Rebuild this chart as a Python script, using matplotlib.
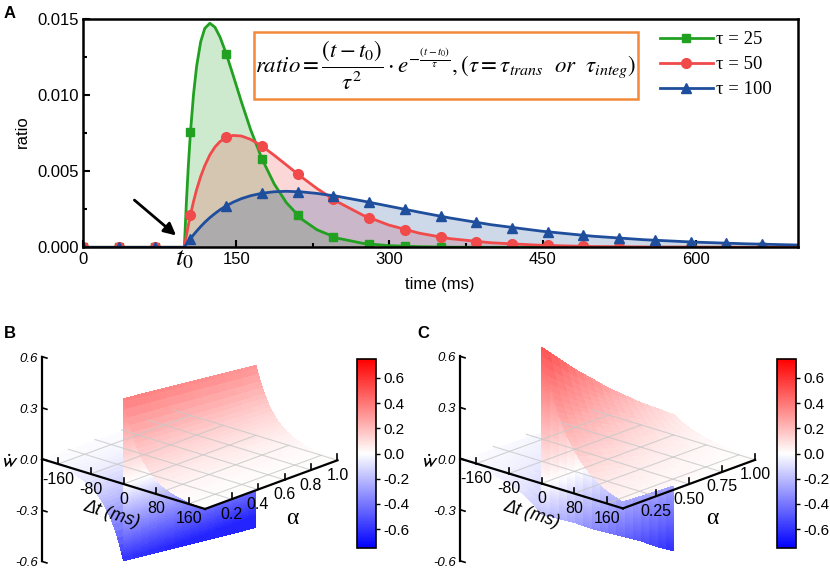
import numpy as np
import matplotlib
matplotlib.use('Agg')
import matplotlib.pyplot as plt
from matplotlib.lines import Line2D
from matplotlib.patches import Rectangle
from matplotlib.colors import Normalize, TwoSlopeNorm
from matplotlib.cm import ScalarMappable

plt.rcParams['font.family'] = ['Liberation Sans', 'DejaVu Sans']
plt.rcParams['mathtext.fontset'] = 'stix'
plt.rcParams['axes.unicode_minus'] = False

W, H = 830, 573

# ---------------- panel A data ----------------
t_curve = [0, 99, 101, 103, 105, 108, 111, 115, 119, 124, 129, 134, 140, 147, 155,
           164, 175, 187, 199, 214, 229, 249, 274, 299, 329, 359, 399, 449, 499,
           549, 599, 649, 700]
ratio_25 = [0, 0, 0.00295, 0.00545, 0.00755, 0.01005, 0.01188, 0.01350, 0.01438,
            0.01472, 0.01446, 0.01381, 0.01273, 0.01126, 0.00954, 0.00772, 0.00582,
            0.00417, 0.00293, 0.00185, 0.00115, 0.00060, 0.00026, 0.00011, 0.00004,
            0.00001, 0, 0, 0, 0, 0, 0, 0]
ratio_50 = [0, 0, 0.00077, 0.00148, 0.00213, 0.00301, 0.00378, 0.00465, 0.00536,
            0.00607, 0.00659, 0.00695, 0.00722, 0.00735, 0.00731, 0.00709, 0.00665,
            0.00605, 0.00541, 0.00461, 0.00386, 0.00299, 0.00211, 0.00147, 0.00093,
            0.00057, 0.00030, 0.00013, 0.00005, 0.00002, 0.00001, 0, 0]
ratio_100 = [0, 0, 0.00020, 0.00038, 0.00057, 0.00082, 0.00106, 0.00136, 0.00164,
             0.00195, 0.00222, 0.00247, 0.00272, 0.00297, 0.00320, 0.00339, 0.00355,
             0.00365, 0.00368, 0.00364, 0.00354, 0.00335, 0.00304, 0.00271, 0.00231,
             0.00193, 0.00149, 0.00106, 0.00073, 0.00050, 0.00034, 0.00023, 0.00015]

t_mark = [0, 35, 70, 105, 140, 175, 210, 245, 280, 315, 350, 385, 420, 455, 490,
          525, 560, 595, 630, 665]
mark_25 = [0, 0, 0, 0.00755, 0.01273, 0.00582, 0.00209, 0.00068, 0.00021, 0.00006,
           0.00002, 0, 0, 0, 0, 0, 0, 0, 0, 0]
mark_50 = [0, 0, 0, 0.00213, 0.00722, 0.00665, 0.00482, 0.00315, 0.00194, 0.00115,
           0.00066, 0.00038, 0.00021, 0.00012, 0.00006, 0.00003, 0.00002, 0.00001, 0, 0]
mark_100 = [0, 0, 0, 0.00057, 0.00272, 0.00355, 0.00366, 0.00339, 0.00296, 0.00249,
            0.00204, 0.00164, 0.00130, 0.00101, 0.00078, 0.00060, 0.00046, 0.00035,
            0.00026, 0.00020]
tau_labels = ['τ = 25', 'τ = 50', 'τ = 100']

# ---------------- panels B / C data ----------------
alpha_rows = [0, 0.0625, 0.125, 0.1875, 0.25, 0.3125, 0.375, 0.4375, 0.5, 0.5625,
              0.625, 0.6875, 0.75, 0.8125, 0.875, 0.9375, 1.0]
dt_steps = [0, 5, 10, 15, 20, 25, 30, 35, 40, 45, 50, 55, 60, 65, 70, 75, 80,
            90, 100, 110, 120, 130, 140, 150, 160, 170, 180, 190, 200]
decay_B = [1.0, 0.895, 0.80, 0.717, 0.64, 0.574, 0.513, 0.459, 0.411, 0.368, 0.329,
           0.295, 0.264, 0.236, 0.211, 0.189, 0.169, 0.135, 0.108, 0.087, 0.069,
           0.056, 0.045, 0.036, 0.029, 0.023, 0.018, 0.015, 0.012]
decay_C = [1.0, 0.931, 0.867, 0.807, 0.751, 0.70, 0.651, 0.607, 0.565, 0.526, 0.49,
           0.456, 0.424, 0.395, 0.368, 0.343, 0.319, 0.277, 0.24, 0.208, 0.18,
           0.156, 0.135, 0.117, 0.102, 0.088, 0.076, 0.066, 0.057]
ltp_B = [0.500, 0.494, 0.489, 0.483, 0.478, 0.472, 0.466, 0.461, 0.455, 0.449, 0.444,
         0.438, 0.433, 0.427, 0.421, 0.416, 0.410]
ltd_B = [0.450, 0.456, 0.461, 0.467, 0.473, 0.478, 0.484, 0.489, 0.495, 0.501, 0.506,
         0.512, 0.518, 0.523, 0.529, 0.534, 0.540]
ltp_C = [0.80, 0.75, 0.70, 0.65, 0.60, 0.555, 0.51, 0.465, 0.42, 0.38, 0.34, 0.30,
         0.26, 0.225, 0.19, 0.155, 0.12]
ltd_C = [0.18, 0.21, 0.24, 0.27, 0.30, 0.335, 0.37, 0.40, 0.43, 0.46, 0.49, 0.52,
         0.55, 0.585, 0.62, 0.65, 0.68]
dt_ticks = [-160, -80, 0, 80, 160]
z_ticks = [0.6, 0.3, 0.0, -0.3, -0.6]
alpha_ticks_B = [0.2, 0.4, 0.6, 0.8, 1.0]
alpha_ticks_C = [0.25, 0.50, 0.75, 1.00]
cbar_ticks = [0.6, 0.4, 0.2, 0.0, -0.2, -0.4, -0.6]

fig = plt.figure(figsize=(W / 100, H / 100), dpi=100)

# ================= panel A =================
axA = fig.add_axes([83.3 / W, 1 - 247.3 / H, 714.4 / W, 228.3 / H])
cols = ['#22a022', '#f04a4a', '#1f4e9c']
marks = ['s', 'o', '^']
msz = [6, 7, 7.5]
curves = [ratio_25, ratio_50, ratio_100]
points = [mark_25, mark_50, mark_100]
for c, y in zip(cols, curves):
    axA.fill_between(t_curve, y, 0, color=c, alpha=0.22, lw=0)
for c, y, ym, m, s in zip(cols, curves, points, marks, msz):
    axA.plot(t_curve, y, color=c, lw=2)
    axA.plot(t_mark, ym, ls='none', marker=m, ms=s, color=c)
axA.set_xlim(0, 700)
axA.set_ylim(0, 0.015)
axA.set_xticks([0, 100, 150, 300, 450, 600])
axA.set_xticklabels(['0', '', '150', '300', '450', '600'])
axA.set_xticks([225, 375, 525], minor=True)
axA.set_yticks([0, 0.005, 0.010, 0.015])
axA.set_yticklabels(['0.000', '0.005', '0.010', '0.015'])
axA.set_yticks([0.0025, 0.0075, 0.0125], minor=True)
axA.tick_params(which='both', direction='in', labelsize=12, width=1.5)
axA.tick_params(which='major', length=5)
axA.tick_params(which='minor', length=3)
for sp in axA.spines.values():
    sp.set_linewidth(1.8)
fig.text(185 / W, 1 - 258 / H, r'$t_0$', fontsize=20, ha='center', va='center')

axA.annotate('', xy=(93, 0.00066), xytext=(48, 0.00322),
             arrowprops=dict(arrowstyle='-|>', color='black', lw=2, mutation_scale=18))

handles = [Line2D([], [], color=c, lw=2, marker=m, ms=s) for c, m, s in zip(cols, marks, msz)]
fig.legend(handles, tau_labels, loc='upper left', bbox_to_anchor=(660 / W, 1 - 31 / H),
           frameon=False, borderpad=0, borderaxespad=0, handlelength=2.8,
           handletextpad=0.2, labelspacing=0.42, numpoints=1,
           prop={'family': ['Liberation Serif', 'DejaVu Serif'], 'size': 13.5})

fig.add_artist(Rectangle((254 / W, 1 - 99 / H), 384 / W, 67 / H, transform=fig.transFigure,
                         facecolor='white', edgecolor='#f28a3a', lw=1.8))
formula = (r'$ratio=\dfrac{(t-t_0)}{\tau^2}\cdot e^{-\frac{(t-t_0)}{\tau}},'
           r'\left(\tau=\tau_{trans}\ \ or\ \ \tau_{integ}\right)$')
fig.text(446 / W, 1 - 66 / H, formula, ha='center', va='center', fontsize=16.5)

fig.text(10 / W, 1 - 13 / H, 'A', weight='bold', fontsize=12, ha='center', va='center')
fig.text(22 / W, 1 - 132 / H, 'ratio', rotation=90, fontsize=12, ha='center', va='center')
fig.text(440 / W, 1 - 285 / H, 'time (ms)', fontsize=12, ha='center', va='center')


# ================= panels B, C =================
def proj_px(ax, x, y, z):
    M = ax.get_proj()
    v = M @ np.array([x, y, z, 1.0])
    return ax.transData.transform((v[0] / v[3], v[1] / v[3]))


def surface_panel(x0, ltp_amp, ltd_amp, decay, norm, a_ticks):
    ax = fig.add_axes([x0 / W, 0.0, 300 / W, 300 / H], projection='3d',
                      proj_type='ortho', computed_zorder=False)
    ax.view_init(elev=19.6, azim=-47.6)
    ax.set_box_aspect((1.0, 0.89, 0.985))
    ax.set_xlim(-200, 200)
    ax.set_ylim(0, 1)
    ax.set_zlim(-0.6, 0.6)
    ax.set_axis_off()
    ax.patch.set_visible(False)

    xs, ys, zs = [], [], []
    for a, ap, an in zip(alpha_rows, ltp_amp, ltd_amp):
        neg = [-an * v for v in decay[::-1]]
        # the vertical step at dt = 0 is split finely so its colour ramps smoothly
        cliff = list(np.linspace(-an, ap, 70)[1:-1])
        pos = [ap * v for v in decay]
        row_x = [-d for d in dt_steps[::-1]] + [0] * len(cliff) + dt_steps
        xs.append(row_x)
        ys.append([a] * len(row_x))
        zs.append(neg + cliff + pos)
    X, Y, Z = np.array(xs, float), np.array(ys, float), np.array(zs, float)
    zc = Z.copy()
    zc[:-1, :-1] = (Z[:-1, :-1] + Z[1:, :-1] + Z[:-1, 1:] + Z[1:, 1:]) / 4
    fc = plt.cm.bwr(norm(zc))
    # light wash toward white, as the original surface is slightly see-through
    fc[..., :3] = 0.86 * fc[..., :3] + 0.14
    surf = ax.plot_surface(X, Y, Z, facecolors=fc, rstride=1, cstride=1, shade=False,
                           linewidth=0, antialiased=False)
    surf.set_clip_on(False)

    grid = dict(color='#c8c8c8', lw=0.8, alpha=0.8, clip_on=False)
    for d in dt_ticks:
        ax.plot([d, d], [0, 1], [0, 0], **grid)
    for a in a_ticks:
        ax.plot([-200, 200], [a, a], [0, 0], **grid)

    k = dict(color='black', lw=1.6, clip_on=False)
    ax.plot([-200, 200], [0, 0], [0, 0], **k)
    ax.plot([200, 200], [0, 1], [0, 0], **k)
    ax.plot([-200, -200], [0, 0], [-0.6, 0.6], **k)
    kt = dict(color='black', lw=1.2, clip_on=False)
    for d in dt_ticks:
        ax.plot([d, d], [0, 0], [0, 0.035], **kt)
    for a in a_ticks:
        ax.plot([200, 200], [a, a], [0, 0.035], **kt)
    for z in z_ticks:
        ax.plot([-200, -188], [0, 0], [z, z], **kt)
    return ax


def align(ax, p1, p2, t1, t2):
    fig.canvas.draw()
    bb = ax.get_position()
    S = bb.width * W
    c0 = np.array([(bb.x0 + bb.width / 2) * W, (bb.y0 + bb.height / 2) * H])
    u1 = (np.array(proj_px(ax, *p1)) - c0) / S
    u2 = (np.array(proj_px(ax, *p2)) - c0) / S
    T1 = np.array([t1[0], H - t1[1]])
    T2 = np.array([t2[0], H - t2[1]])
    s = np.linalg.norm(T2 - T1) / np.linalg.norm(u2 - u1)
    c = (T1 + T2) / 2 - s * (u1 + u2) / 2
    ax.set_position([(c[0] - s / 2) / W, (c[1] - s / 2) / H, s / W, s / H])


normB = TwoSlopeNorm(vcenter=0, vmin=-0.47, vmax=0.85)
normC = TwoSlopeNorm(vcenter=0, vmin=-0.7, vmax=1.0)
axB = surface_panel(0, ltp_B, ltd_B, decay_B, normB, alpha_ticks_B)
axC = surface_panel(415, ltp_C, ltd_C, decay_C, normC, alpha_ticks_C)
align(axB, (-200, 0, 0), (200, 0, 0), (42, 459), (205, 509))
align(axC, (-200, 0, 0), (200, 0, 0), (460, 459), (623, 508))
fig.canvas.draw()


def label_panel(ax, a_ticks, a_fmt, dx):
    for d in dt_ticks:
        px, py = proj_px(ax, d, 0, 0)
        fig.text(px / W, (py - 15) / H, f'{d}', fontsize=11.5, ha='center', va='center')
    for a in a_ticks:
        px, py = proj_px(ax, 200, a, 0)
        fig.text(px / W, (py - 15) / H, a_fmt.format(a), fontsize=11.5, ha='center',
                 va='center')
    for z in z_ticks:
        px, py = proj_px(ax, -200, 0, z)
        fig.text((px - 4) / W, (py - 2) / H, f'{z:.1f}', fontsize=9.5, style='italic',
                 ha='right', va='center')
    fig.text((9 + dx) / W, 1 - 463 / H, r'$\dot{\mathsf{w}}$', fontsize=15,
             ha='center', va='center')
    fig.text((112 + dx) / W, 1 - 514 / H, 'Δt (ms)', fontsize=13, style='italic',
             rotation=-17, ha='center', va='center')
    fig.text((292 + dx) / W, 1 - 518 / H, 'α', fontsize=17,
             family=['Liberation Serif', 'DejaVu Serif'], ha='center', va='center')


label_panel(axB, alpha_ticks_B, '{:.1f}', 0)
label_panel(axC, alpha_ticks_C, '{:.2f}', 420)
fig.text(10 / W, 1 - 333 / H, 'B', weight='bold', fontsize=12, ha='center', va='center')
fig.text(423 / W, 1 - 333 / H, 'C', weight='bold', fontsize=12, ha='center', va='center')

for xc in (357, 777):
    cax = fig.add_axes([xc / W, 25 / H, 19 / W, 189 / H])
    cb = fig.colorbar(ScalarMappable(norm=Normalize(-0.75, 0.75), cmap='bwr'),
                      cax=cax, ticks=cbar_ticks)
    cb.ax.set_yticklabels([f'{v:.1f}' for v in cbar_ticks])
    cb.ax.tick_params(labelsize=11, length=3, width=1, pad=2)
    cb.outline.set_linewidth(1.2)

fig.savefig('out.png', dpi=100)
